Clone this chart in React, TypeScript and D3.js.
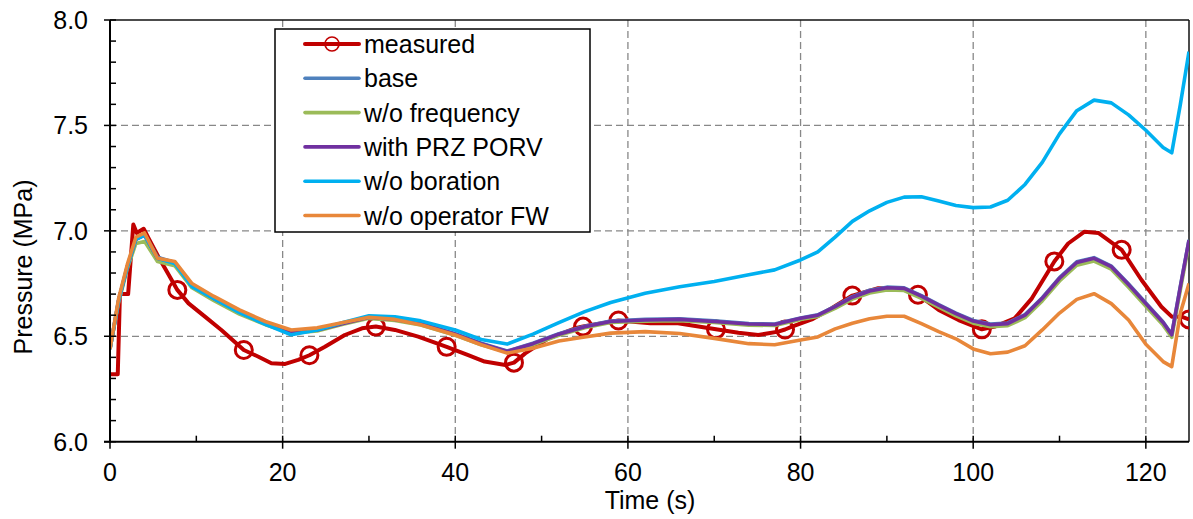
import React, { useEffect, useRef } from "react";
import * as d3 from "d3";

// legend / series names (draw order)
const seriesNames = ["measured", "base", "w/o frequency", "with PRZ PORV", "w/o boration", "w/o operator FW"];

// measured pressure (MPa) vs time (s)
const measuredTime = [
  0, 0.9, 1.15, 2.1, 2.7, 3.1, 3.9, 4.4, 5.6, 6.6,
  7.8, 9.1, 11, 12.9, 15.5, 17.2, 18.7, 20.3, 21.8, 23.1,
  24.9, 27.2, 29.2, 30.8, 33, 35.7, 39.0, 41.5, 43.4, 45.8,
  46.8, 48.1, 50.8, 53.9, 54.8, 57, 58.9, 62.6, 65.8, 70.2,
  72.8, 75.1, 77.4, 78.2, 79, 81.3, 83.6, 86.0, 89, 91.7,
  93.6, 96, 98.3, 101.0, 102.5, 104.8, 106.8, 109.4, 111, 112.9,
  114.5, 117.2, 119.5, 121.8, 123, 124.1, 125,
];
const measuredPressure = [
  6.32, 6.32, 6.70, 6.70, 7.03, 6.99, 7.01, 6.97, 6.877, 6.806,
  6.72, 6.656, 6.593, 6.53, 6.435, 6.403, 6.372, 6.369, 6.388, 6.41,
  6.45, 6.506, 6.538, 6.546, 6.53, 6.498, 6.45, 6.411, 6.38, 6.364,
  6.375, 6.419, 6.49, 6.538, 6.546, 6.562, 6.575, 6.562, 6.562, 6.533,
  6.517, 6.506, 6.522, 6.532, 6.546, 6.58, 6.633, 6.693, 6.728, 6.728,
  6.697, 6.625, 6.577, 6.533, 6.546, 6.585, 6.68, 6.855, 6.94, 6.996,
  6.99, 6.91, 6.767, 6.64, 6.593, 6.593, 6.58,
];
// times where the measured curve carries a circle marker
const markerTimes = [7.8, 15.5, 23.1, 30.8, 39.0, 46.8, 54.8, 58.9, 70.2, 78.2, 86.0, 93.6, 101.0, 109.4, 117.2, 125];

// simulation time grid (s)
const simTime = [
  0, 1, 2, 3, 4, 5.5, 7.5, 9.5, 12, 15,
  18, 21, 24, 27, 30, 33, 36, 40, 43, 46,
  49, 52, 55, 58, 62, 66, 70, 74, 77, 80,
  82, 84, 86, 88, 90, 92, 94, 96, 98, 100,
  102, 104, 106, 108, 110, 112, 114, 116, 118, 120,
  122, 123, 124, 125,
];
const basePressure = [
  6.44, 6.67, 6.83, 6.96, 6.985, 6.875, 6.85, 6.74, 6.68, 6.615,
  6.562, 6.522, 6.532, 6.562, 6.592, 6.582, 6.562, 6.512, 6.467, 6.43,
  6.467, 6.512, 6.548, 6.572, 6.58, 6.583, 6.573, 6.56, 6.558, 6.587,
  6.602, 6.642, 6.688, 6.718, 6.733, 6.73, 6.693, 6.65, 6.61, 6.575,
  6.558, 6.563, 6.603, 6.683, 6.778, 6.853, 6.873, 6.833, 6.748, 6.658,
  6.568, 6.51, 6.738, 6.958,
];
const noFrequencyPressure = [
  6.44, 6.66, 6.82, 6.94, 6.95, 6.855, 6.835, 6.73, 6.67, 6.605,
  6.555, 6.515, 6.525, 6.557, 6.585, 6.575, 6.553, 6.505, 6.46, 6.425,
  6.46, 6.505, 6.54, 6.565, 6.572, 6.574, 6.565, 6.553, 6.551, 6.58,
  6.594, 6.632, 6.676, 6.705, 6.72, 6.717, 6.68, 6.638, 6.597, 6.562,
  6.545, 6.55, 6.588, 6.668, 6.762, 6.837, 6.857, 6.818, 6.732, 6.642,
  6.553, 6.495, 6.72, 6.94,
];
const przPorvPressure = [
  6.44, 6.67, 6.83, 6.96, 6.98, 6.87, 6.85, 6.74, 6.68, 6.615,
  6.56, 6.52, 6.53, 6.56, 6.59, 6.58, 6.56, 6.51, 6.465, 6.428,
  6.465, 6.51, 6.545, 6.57, 6.577, 6.58, 6.57, 6.558, 6.556, 6.585,
  6.6, 6.64, 6.685, 6.715, 6.73, 6.727, 6.69, 6.648, 6.607, 6.572,
  6.555, 6.56, 6.6, 6.68, 6.775, 6.85, 6.87, 6.83, 6.745, 6.655,
  6.565, 6.507, 6.735, 6.955,
];
const noBorationPressure = [
  6.44, 6.67, 6.83, 6.96, 6.98, 6.87, 6.845, 6.735, 6.68, 6.612,
  6.557, 6.507, 6.53, 6.565, 6.597, 6.592, 6.573, 6.53, 6.485, 6.463,
  6.51, 6.565, 6.617, 6.66, 6.704, 6.735, 6.76, 6.792, 6.815, 6.862,
  6.9, 6.97, 7.045, 7.095, 7.135, 7.16, 7.162, 7.142, 7.12, 7.11,
  7.113, 7.145, 7.22, 7.325, 7.46, 7.57, 7.62, 7.607, 7.55, 7.477,
  7.395, 7.37, 7.6, 7.85,
];
const noOperatorFwPressure = [
  6.44, 6.68, 6.84, 6.97, 6.99, 6.87, 6.855, 6.75, 6.69, 6.625,
  6.57, 6.53, 6.54, 6.565, 6.59, 6.58, 6.555, 6.506, 6.46, 6.42,
  6.443, 6.478, 6.497, 6.515, 6.522, 6.513, 6.49, 6.465, 6.46, 6.482,
  6.497, 6.535, 6.562, 6.583, 6.595, 6.595, 6.56, 6.522, 6.488, 6.44,
  6.417, 6.425, 6.455, 6.53, 6.61, 6.675, 6.702, 6.655, 6.577, 6.462,
  6.38, 6.356, 6.61, 6.75,
];

const xTicks = [0, 20, 40, 60, 80, 100, 120];
const xMinorTicks = [10, 30, 50, 70, 90, 110];
const yTickLabels = ["6.0", "6.5", "7.0", "7.5", "8.0"];

const colors = ["#C00000", "#4F81BD", "#9BBB59", "#7030A0", "#00B0F0", "#E8873A"];

const drawChart = (elt: SVGSVGElement) => {
  const width = 1193;
  const height = 519;
  const left = 110, right = 1189, top = 20, bottom = 441.7;
  const font = "'Liberation Sans', Arial, sans-serif";

  const svg = d3.select(elt);
  svg.selectAll("*").remove();
  svg.attr("width", width).attr("height", height);
  svg.append("rect").attr("width", width).attr("height", height).attr("fill", "white");

  const x = d3.scaleLinear().domain([0, 125]).range([left, right]);
  const y = d3.scaleLinear().domain([6, 8]).range([bottom, top]);

  // grid
  const grid = svg.append("g").attr("stroke", "#888").attr("stroke-width", 1.3).attr("stroke-dasharray", "7,4");
  xTicks.filter((t) => t > 0).forEach((t) => {
    grid.append("line").attr("x1", x(t)).attr("x2", x(t)).attr("y1", top).attr("y2", bottom);
  });
  yTickLabels.map(Number).filter((v) => v > 6 && v < 8).forEach((v) => {
    grid.append("line").attr("x1", left).attr("x2", right).attr("y1", y(v)).attr("y2", y(v));
  });

  // frame top / right
  svg.append("line").attr("x1", left).attr("x2", right).attr("y1", top).attr("y2", top).attr("stroke", "#111").attr("stroke-width", 1.5);
  svg.append("line").attr("x1", right).attr("x2", right).attr("y1", top).attr("y2", bottom).attr("stroke", "#111").attr("stroke-width", 1.5);

  // series
  svg.append("clipPath").attr("id", "plotClip").append("rect")
    .attr("x", left).attr("y", top).attr("width", right - left).attr("height", bottom - top);
  const plot = svg.append("g").attr("clip-path", "url(#plotClip)");

  const line = d3.line<[number, number]>().x((d) => x(d[0])).y((d) => y(d[1]));
  const sims = [basePressure, noFrequencyPressure, przPorvPressure, noBorationPressure, noOperatorFwPressure];
  const measured: [number, number][] = measuredTime.map((t, i) => [t, measuredPressure[i]]);

  plot.append("path").attr("d", line(measured)).attr("fill", "none")
    .attr("stroke", colors[0]).attr("stroke-width", 4).attr("stroke-linejoin", "round");
  plot.selectAll("circle.marker")
    .data(markerTimes.map((t) => measured.find((d) => d[0] === t)!))
    .join("circle").attr("class", "marker")
    .attr("cx", (d) => x(d[0])).attr("cy", (d) => y(d[1])).attr("r", 8.5)
    .attr("fill", "none").attr("stroke", colors[0]).attr("stroke-width", 3);

  sims.forEach((vals, k) => {
    const pts: [number, number][] = simTime.map((t, i) => [t, vals[i]]);
    plot.append("path").attr("d", line(pts)).attr("fill", "none")
      .attr("stroke", colors[k + 1]).attr("stroke-width", 3.6).attr("stroke-linejoin", "round");
  });

  // axes
  const axis = svg.append("g").attr("stroke", "#000");
  axis.append("line").attr("x1", left).attr("x2", left).attr("y1", top).attr("y2", bottom + 1).attr("stroke-width", 2);
  axis.append("line").attr("x1", left - 6).attr("x2", right).attr("y1", bottom).attr("y2", bottom).attr("stroke-width", 2);
  d3.range(6, 8.001, 0.1).forEach((v, i) => {
    const major = i % 5 === 0;
    axis.append("line").attr("x1", major ? left - 6 : left).attr("x2", left + 6)
      .attr("y1", y(v)).attr("y2", y(v)).attr("stroke-width", 1.5);
  });
  xTicks.forEach((t) => {
    axis.append("line").attr("x1", x(t)).attr("x2", x(t)).attr("y1", bottom - 6).attr("y2", bottom + 7).attr("stroke-width", 1.5);
  });
  xMinorTicks.forEach((t) => {
    axis.append("line").attr("x1", x(t)).attr("x2", x(t)).attr("y1", bottom - 6).attr("y2", bottom).attr("stroke-width", 1.5);
  });

  const labels = svg.append("g").attr("font-family", font).attr("font-size", 25).attr("fill", "#000");
  yTickLabels.forEach((lab) => {
    labels.append("text").attr("x", 88).attr("y", y(Number(lab)) + 9).attr("text-anchor", "end").text(lab);
  });
  xTicks.forEach((t) => {
    labels.append("text").attr("x", x(t)).attr("y", 481).attr("text-anchor", "middle").text(String(t));
  });
  labels.append("text").attr("x", 650).attr("y", 509).attr("text-anchor", "middle").text("Time (s)");
  labels.append("text").attr("transform", "translate(32,267) rotate(-90)").attr("text-anchor", "middle").text("Pressure (MPa)");

  // legend
  const lg = svg.append("g");
  lg.append("rect").attr("x", 275).attr("y", 29).attr("width", 315).attr("height", 203)
    .attr("fill", "white").attr("stroke", "#000").attr("stroke-width", 1.5);
  seriesNames.forEach((name, i) => {
    const cy = 44 + i * 34.3;
    lg.append("line").attr("x1", 305).attr("x2", 359).attr("y1", cy).attr("y2", cy)
      .attr("stroke", colors[i]).attr("stroke-width", i === 0 ? 4 : 3.6).attr("stroke-linecap", "round");
    if (i === 0) {
      lg.append("circle").attr("cx", 332).attr("cy", cy).attr("r", 7).attr("fill", "none")
        .attr("stroke", colors[0]).attr("stroke-width", 1.6);
    }
    lg.append("text").attr("x", 364).attr("y", cy + 9).attr("font-family", font).attr("font-size", 25)
      .attr("fill", "#000").text(name);
  });
};

const App = () => {
  const ref = useRef<SVGSVGElement>(null);
  useEffect(() => {
    if (ref.current) drawChart(ref.current);
  }, []);
  return (
    <div style={{ position: "absolute", left: 0, top: 0 }}>
      <svg ref={ref} style={{ display: "block" }} />
    </div>
  );
};

export default App;
